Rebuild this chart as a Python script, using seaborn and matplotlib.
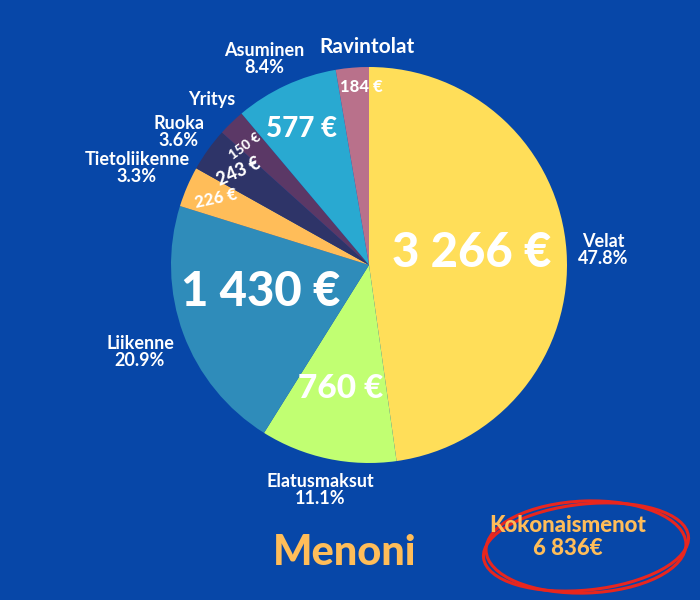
import matplotlib
matplotlib.use("Agg")
import matplotlib.pyplot as plt
import seaborn as sns
from matplotlib.patches import Ellipse

# ============================================================
# DATA
# ============================================================

categories = ["Velat", "Elatusmaksut", "Liikenne", "Tietoliikenne",
              "Ruoka", "Yritys", "Asuminen", "Ravintolat"]
amounts = [3266, 760, 1430, 226, 243, 150, 577, 184]
show_pct = [True, True, True, True, True, False, True, False]
title = "Menoni"
total_label = "Kokonaismenot"

# ============================================================
# STYLE
# ============================================================

BG = "#0747A8"
ORANGE = "#FFBD59"
palette = sns.color_palette(["#FFDE59", "#C1FF72", "#2F8CBA", "#FFBD59",
                             "#2E3468", "#5B3866", "#29A9D1", "#B9718B"])

sns.set_theme(style="white")
plt.rcParams["font.family"] = ["Lato", "DejaVu Sans"]


def euro(v):
    return f"{v:,}".replace(",", " ")


total = sum(amounts)
pcts = [a / total * 100 for a in amounts]

fig = plt.figure(figsize=(7, 6), dpi=100, facecolor=BG)
ax = fig.add_axes([0, 0, 1, 1])
ax.set_facecolor(BG)

# pie in pixel coords (y measured upward)
CX, CY, R = 369, 600 - 265, 198
ax.pie(amounts, colors=palette, startangle=90, counterclock=False,
       center=(CX, CY), radius=R, wedgeprops=dict(linewidth=0))
ax.set_xlim(0, 700)
ax.set_ylim(0, 600)
ax.set_aspect("equal")
ax.axis("off")

# value labels inside wedges: (x, y, fontsize, rotation)
inner = {
    "Velat": (472, 253, 34, 0),
    "Elatusmaksut": (341, 389, 24, 0),
    "Liikenne": (261, 292, 34, 0),
    "Tietoliikenne": (216, 199, 12, 12),
    "Ruoka": (239, 172, 13, 24),
    "Yritys": (245, 146, 10, 36),
    "Asuminen": (301, 129, 20, 0),
    "Ravintolat": (361, 87, 12, 0),
}
# category labels outside: (x, y, fontsize)
outer = {
    "Velat": (603, 250, 13),
    "Elatusmaksut": (320, 490, 13),
    "Liikenne": (140, 352, 13),
    "Tietoliikenne": (137, 168, 13),
    "Ruoka": (179, 132, 13),
    "Yritys": (212, 100, 13),
    "Asuminen": (264, 59, 13),
    "Ravintolat": (367, 47, 15),
}

for cat, amt, pct, sp in zip(categories, amounts, pcts, show_pct):
    x, y, fs, rot = inner[cat]
    ax.text(x, 600 - y, f"{euro(amt)} €", color="white", fontsize=fs,
            fontweight="black", ha="center", va="center", rotation=rot)
    ox, oy, ofs = outer[cat]
    txt = f"{cat}\n{pct:.1f}%" if sp else cat
    ax.text(ox, 600 - oy, txt, color="white", fontsize=ofs, fontweight="bold",
            ha="center", va="center", linespacing=1.05)

ax.text(345, 600 - 553, title, color=ORANGE, fontsize=30,
        fontweight="black", ha="center", va="center")

ax.text(568, 600 - 537, f"{total_label}\n{euro(total)}€", color=ORANGE,
        fontsize=16, fontweight="black", ha="center", va="center",
        linespacing=1.1)

# hand-drawn style red circle
for w, h, ang in [(206, 86, 6), (200, 92, 2)]:
    ax.add_patch(Ellipse((586, 600 - 547), w, h, angle=ang, fill=False,
                         edgecolor="#E8261E", linewidth=2.2))

fig.savefig("out.png", dpi=100, facecolor=BG)
